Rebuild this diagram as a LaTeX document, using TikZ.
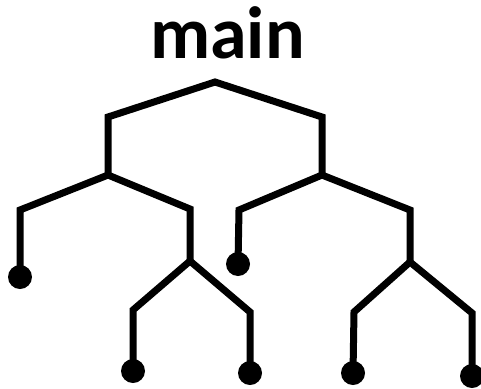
\documentclass[tikz,border=0pt]{standalone}
\usepackage{fontspec}
\setmainfont{Carlito}
\usetikzlibrary{positioning}

\begin{document}
\begin{tikzpicture}[x=1pt,y=-1pt]

\tikzstyle{branch}=[line width=7pt, line join=miter]
\tikzstyle{leaf}=[circle, fill, inner sep=0pt, minimum size=24pt]

\useasboundingbox (0,0) rectangle (481,388);

\node (title) [anchor=base, font=\bfseries\fontsize{74}{74}\selectfont] at (227.5,58) {main};

% top split
\coordinate (root) at (215,82);
\coordinate (l) at (108,117);
\coordinate (r) at (322,117);
\coordinate (lj) at (108,175);
\coordinate (rj) at (322,175);

% left subtree
\coordinate (ll) at (20,210);
\coordinate (lr) at (190,209);
\coordinate (lrj) at (190,261);
\coordinate (lrl) at (133,310);
\coordinate (lrr) at (250,312);

% right subtree
\coordinate (rl) at (239,210);
\coordinate (rr) at (410,210);
\coordinate (rrj) at (410,262);
\coordinate (rrl) at (354,312);
\coordinate (rrr) at (472,313);

% leaves
\node (d1) [leaf] at (20,277) {};
\node (d2) [leaf] at (133,371) {};
\node (d3) [leaf] at (250,373) {};
\node (d4) [leaf] at (238,264) {};
\node (d5) [leaf] at (353,373) {};
\node (d6) [leaf] at (472,376) {};

\draw [branch] (lj) -- (l) -- (root) -- (r) -- (rj);

\draw [branch] (d1.center) -- (ll) -- (lj) -- (lr) -- (lrj);
\draw [branch] (d2.center) -- (lrl) -- (lrj) -- (lrr) -- (d3.center);

\draw [branch] (d4.center) -- (rl) -- (rj) -- (rr) -- (rrj);
\draw [branch] (d5.center) -- (rrl) -- (rrj) -- (rrr) -- (d6.center);

\end{tikzpicture}
\end{document}
